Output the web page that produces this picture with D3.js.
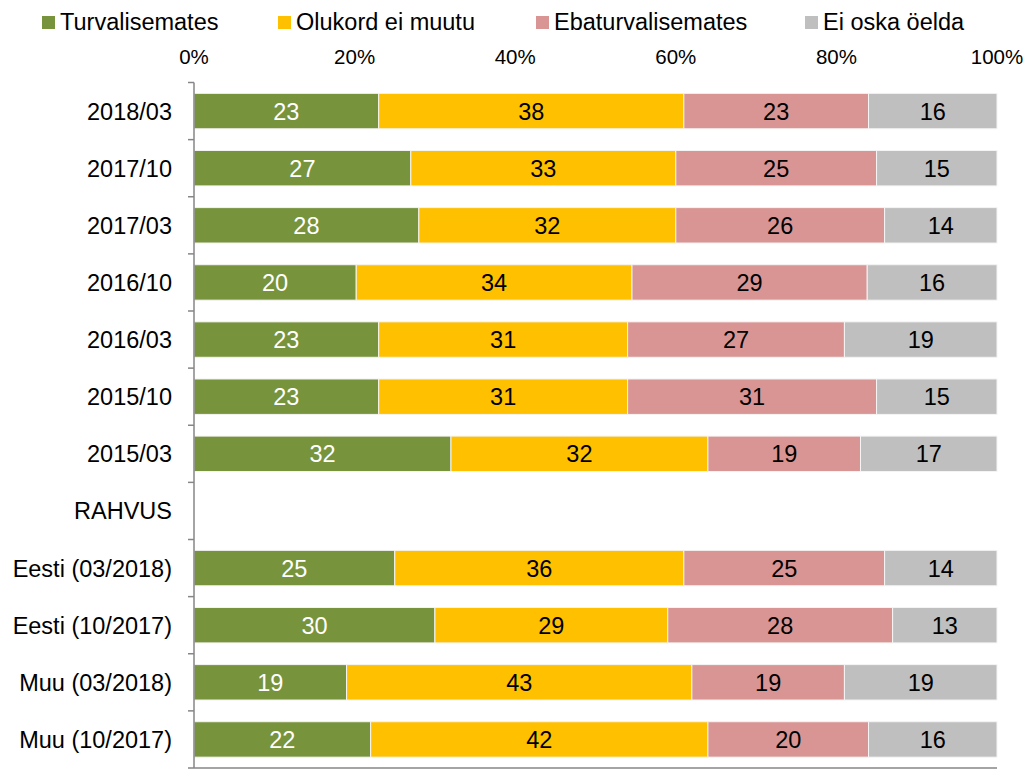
<!DOCTYPE html>
<html><head><meta charset="utf-8">
<script src="https://cdn.jsdelivr.net/npm/d3@7"></script>
<style>body{margin:0;background:#fff}svg{display:block;font-family:"Liberation Sans",Arial,sans-serif}</style>
</head><body><svg id="c" width="1024" height="769"></svg>
<script>
const categories = ["2018/03","2017/10","2017/03","2016/10","2016/03","2015/10","2015/03","RAHVUS","Eesti (03/2018)","Eesti (10/2017)","Muu (03/2018)","Muu (10/2017)"];
const seriesNames = ["Turvalisemates","Olukord ei muutu","Ebaturvalisemates","Ei oska öelda"];
const turvalisemates   = [23,27,28,20,23,23,32,null,25,30,19,22];
const olukordEiMuutu   = [38,33,32,34,31,31,32,null,36,29,43,42];
const ebaturvalisemates= [23,25,26,29,27,31,19,null,25,28,19,20];
const eiOskaOelda      = [16,15,14,16,19,15,17,null,14,13,19,16];
const tickLabels = ["0%","20%","40%","60%","80%","100%"];
const colors = ["#77933C","#FFC000","#D99594","#BFBFBF"];
const labelColors = ["#fff","#000","#000","#000"];

const svg = d3.select("#c");
const x = d3.scaleLinear().domain([0,1]).range([194,997]);
const y = d3.scaleBand().domain(categories).range([82.5,768]).paddingInner(0.38).paddingOuter(0.19);
const step = y.step();

const series = [turvalisemates, olukordEiMuutu, ebaturvalisemates, eiOskaOelda];
const rows = categories.map((c,i)=>{
  const vals = series.map(s=>s[i]);
  if (vals[0]===null) return null;
  const tot = d3.sum(vals);
  let acc = 0;
  return vals.map((v,k)=>{const r={cat:c,k,v,x0:acc/tot,x1:(acc+v)/tot}; acc+=v; return r;});
}).filter(r=>r);

const g = svg.append("g");
rows.forEach(r=>{
  r.forEach(d=>{
    g.append("rect").attr("x",x(d.x0)).attr("y",y(d.cat)).attr("width",x(d.x1)-x(d.x0)).attr("height",y.bandwidth())
      .attr("fill",colors[d.k]).attr("stroke","#f4f4f4").attr("stroke-width",1);
    g.append("text").attr("x",(x(d.x0)+x(d.x1))/2).attr("y",y(d.cat)+y.bandwidth()/2).attr("dy","0.36em")
      .attr("text-anchor","middle").attr("font-size",23.5).attr("fill",labelColors[d.k]).text(d.v);
  });
});

// left axis
const ax = svg.append("g").attr("stroke","#868686").attr("stroke-width",1.5);
ax.append("line").attr("x1",194).attr("x2",194).attr("y1",82.5).attr("y2",768);
d3.range(categories.length+1).forEach(i=>{
  const yy = 82.5 + i*step;
  ax.append("line").attr("x1",188).attr("x2",194).attr("y1",yy).attr("y2",yy);
});
ax.append("line").attr("x1",194).attr("x2",997).attr("y1",768).attr("y2",768);

// category labels
svg.append("g").selectAll("text").data(categories).join("text")
  .attr("x",172).attr("y",d=>y(d)+y.bandwidth()/2).attr("dy","0.36em")
  .attr("text-anchor","end").attr("font-size",23.5).attr("fill","#000").text(d=>d);

// top tick labels
const tickVals = d3.range(0,1.0001,0.2);
svg.append("g").selectAll("text").data(tickVals).join("text")
  .attr("x",d=>x(d)).attr("y",64).attr("text-anchor","middle").attr("font-size",20.5).attr("fill","#000")
  .text((d,i)=>tickLabels[i]);

// legend
const legX = [42,278,536,805];
const lg = svg.append("g");
seriesNames.forEach((n,i)=>{
  lg.append("rect").attr("x",legX[i]).attr("y",16).attr("width",13).attr("height",13).attr("fill",colors[i]);
  lg.append("text").attr("x",legX[i]+18).attr("y",30).attr("font-size",23.5).attr("fill","#000").text(n);
});
</script></body></html>
